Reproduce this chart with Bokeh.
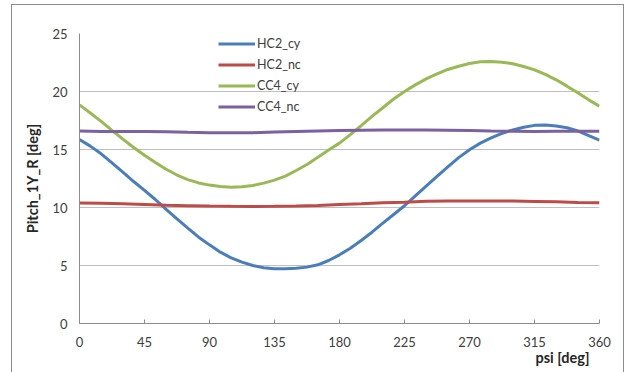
from bokeh.plotting import figure
from bokeh.models import Legend, LegendItem, Title, FixedTicker
from bokeh.embed import file_html
from bokeh.resources import INLINE

# cyclic series, read every 7.5 deg
psi_fine = [0, 7.5, 15, 22.5, 30, 37.5, 45, 52.5, 60, 67.5, 75, 82.5, 90, 97.5, 105, 112.5,
            120, 127.5, 135, 142.5, 150, 157.5, 165, 172.5, 180, 187.5, 195, 202.5, 210, 217.5,
            225, 232.5, 240, 247.5, 255, 262.5, 270, 277.5, 285, 292.5, 300, 307.5, 315, 322.5,
            330, 337.5, 345, 352.5, 360]
hc2_cy = [15.86, 15.29, 14.63, 13.85, 13.05, 12.24, 11.47, 10.69, 9.83, 9.02, 8.22, 7.44,
          6.78, 6.15, 5.66, 5.29, 5.0, 4.8, 4.71, 4.71, 4.77, 4.86, 5.06, 5.43, 5.92, 6.49,
          7.16, 7.87, 8.65, 9.4, 10.15, 11.0, 11.85, 12.68, 13.5, 14.3, 14.98, 15.55, 16.0,
          16.4, 16.68, 16.92, 17.08, 17.12, 17.02, 16.88, 16.6, 16.2, 15.8]
cc4_cy = [18.85, 18.15, 17.42, 16.65, 15.9, 15.17, 14.5, 13.88, 13.3, 12.8, 12.4, 12.12,
          11.93, 11.81, 11.75, 11.78, 11.9, 12.1, 12.36, 12.7, 13.19, 13.71, 14.34, 14.95,
          15.55, 16.28, 17.05, 17.85, 18.6, 19.35, 20.0, 20.57, 21.09, 21.52, 21.9, 22.18,
          22.41, 22.56, 22.59, 22.53, 22.39, 22.16, 21.87, 21.47, 21.01, 20.46, 19.89, 19.28,
          18.74]
# near-constant series, read every 15 deg
psi = [0, 15, 30, 45, 60, 75, 90, 105, 120, 135, 150, 165, 180,
       195, 210, 225, 240, 255, 270, 285, 300, 315, 330, 345, 360]
hc2_nc = [10.38, 10.36, 10.32, 10.26, 10.2, 10.16, 10.12, 10.1, 10.09, 10.1, 10.12, 10.18,
          10.25, 10.32, 10.4, 10.46, 10.53, 10.56, 10.57, 10.56, 10.55, 10.52, 10.49, 10.44, 10.4]
cc4_nc = [16.6, 16.55, 16.55, 16.55, 16.52, 16.48, 16.45, 16.45, 16.45, 16.5, 16.55, 16.6,
          16.63, 16.66, 16.68, 16.68, 16.68, 16.66, 16.63, 16.6, 16.58, 16.55, 16.57, 16.58, 16.58]
x_ticks = [0, 45, 90, 135, 180, 225, 270, 315, 360]
y_ticks = [0, 5, 10, 15, 20, 25]
names = ["HC2_cy", "HC2_nc", "CC4_cy", "CC4_nc"]
colors = ["#4a7ebb", "#be4b48", "#98b954", "#7d60a0"]

FONT = "Lato"

p = figure(width=613, height=370, output_backend="svg", toolbar_location=None,
           x_range=(0, 360), y_range=(0, 25),
           min_border_left=67, min_border_right=26, min_border_top=28, min_border_bottom=52)
p.styles = {"margin-left": "11px", "margin-top": "4px",
            "border": "1px solid #8c8c8c"}
p.outline_line_color = None
p.background_fill_color = "white"
p.border_fill_color = "white"

p.xaxis.ticker = FixedTicker(ticks=x_ticks)
p.yaxis.ticker = FixedTicker(ticks=y_ticks)
for ax in (p.xaxis[0], p.yaxis[0]):
    ax.axis_line_color = "#8c8c8c"
    ax.axis_line_width = 1
    ax.major_label_text_font = FONT
    ax.major_label_text_font_size = "13px"
    ax.major_label_text_color = "#404040"
    ax.minor_tick_line_color = None
p.xaxis.major_tick_in = 4
p.xaxis.major_tick_out = 0
p.xaxis.major_tick_line_color = "#8c8c8c"
p.xaxis.major_label_standoff = 13
p.yaxis.major_tick_in = 0
p.yaxis.major_tick_out = 0
p.yaxis.major_label_standoff = 12

p.yaxis.axis_label = "Pitch_1Y_R [deg]"
p.yaxis.axis_label_text_font = FONT
p.yaxis.axis_label_text_font_size = "14.5px"
p.yaxis.axis_label_text_font_style = "bold"
p.yaxis.axis_label_text_color = "#262626"
p.yaxis.axis_label_standoff = 8

p.xgrid.grid_line_color = None
p.ygrid.grid_line_color = "#bfbfbf"
p.ygrid.grid_line_width = 1

series = [(psi_fine, hc2_cy), (psi, hc2_nc), (psi_fine, cc4_cy), (psi, cc4_nc)]
items = []
for name, col, (xs, ys) in zip(names, colors, series):
    r = p.line(xs, ys, line_color=col, line_width=3)
    items.append(LegendItem(label=name, renderers=[r]))

legend = Legend(items=items, location=(139, 206), orientation="vertical",
                glyph_width=37, glyph_height=21, label_standoff=2, spacing=0,
                padding=0, margin=0, label_text_font=FONT, label_text_font_size="12.5px",
                label_text_color="#404040", background_fill_alpha=0, border_line_color=None,
                label_height=21)
p.add_layout(legend, "center")

xt = Title(text="psi [deg]", align="right", offset=10, standoff=-5,
           text_font=FONT, text_font_size="14.5px", text_font_style="bold",
           text_color="#262626")
p.add_layout(xt, "below")

open("out.html", "w").write(file_html(p, INLINE))
